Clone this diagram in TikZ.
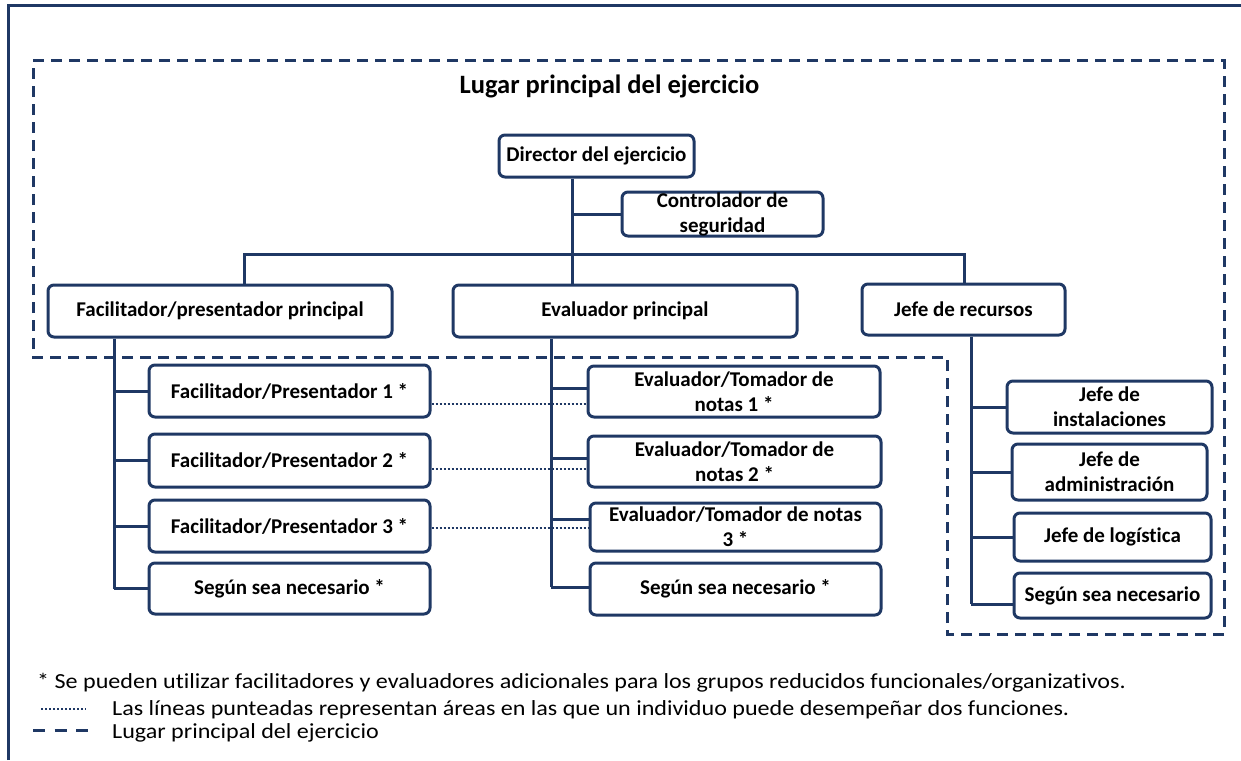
\documentclass[tikz,border=0pt]{standalone}
\usepackage{fontspec}
\setmainfont{Carlito}[Ligatures=NoCommon]
\newfontfamily\notefont{Carlito}[Ligatures=NoCommon, FakeStretch=1.12]
\definecolor{lineblue}{RGB}{31,56,100}

\begin{document}
\begin{tikzpicture}[x=1pt, y=-1pt,
    box/.style={draw=lineblue, line width=3pt, rounded corners=6pt, fill=white, inner sep=0pt, align=center, font=\fontsize{21}{25}\selectfont\bfseries},
    link/.style={draw=lineblue, line width=3pt},
    dual/.style={draw=lineblue, line width=2.6pt, dash pattern=on 2pt off 2pt},
    site/.style={draw=lineblue, line width=3pt, dash pattern=on 11pt off 7pt},
    note/.style={anchor=base west, inner sep=0pt, font=\notefont\fontsize{21.5}{24}\selectfont}]
    \useasboundingbox (0,0) rectangle (1241,760);
    \draw[link] (8,760) -- (8,6) -- (1241,6);

    % main site
    \draw[site] (33,61) -- (1224,61) -- (1224,634) -- (947,634) -- (947,357) -- (33,357) -- cycle;
    \node[anchor=base, inner sep=0pt, font=\fontsize{26.5}{30}\selectfont\bfseries] (title) at (609.5,93) {Lugar principal del ejercicio};

    \node[box, minimum width=195pt, minimum height=42pt] (dir) at (596.5,156) {Director del ejercicio};
    \node[box, minimum width=201pt, minimum height=44pt] (ctrl) at (722.5,214) {Controlador de\\seguridad};
    \node[box, minimum width=344pt, minimum height=52pt] (facp) at (220,311) {Facilitador/presentador principal};
    \node[box, minimum width=344pt, minimum height=52pt] (evap) at (625,311) {Evaluador principal};
    \node[box, minimum width=203pt, minimum height=51pt] (jefer) at (963.5,309.5) {Jefe de recursos};

    \node[box, minimum width=281pt, minimum height=52pt] (fac1) at (289.5,391) {Facilitador/Presentador 1 *};
    \node[box, minimum width=281pt, minimum height=53pt] (fac2) at (289.5,460.5) {Facilitador/Presentador 2 *};
    \node[box, minimum width=281pt, minimum height=52pt] (fac3) at (289.5,526) {Facilitador/Presentador 3 *};
    \node[box, minimum width=281pt, minimum height=51pt] (segf) at (289.5,588.5) {Según sea necesario *};

    \node[box, minimum width=292pt, minimum height=51pt] (eva1) at (734,391.5) {Evaluador/Tomador de\\notas 1 *};
    \node[box, minimum width=293pt, minimum height=51pt] (eva2) at (734.5,461.5) {Evaluador/Tomador de\\notas 2 *};
    \node[box, minimum width=291pt, minimum height=48pt] (eva3) at (735.5,527) {Evaluador/Tomador de notas\\3 *};
    \node[box, minimum width=291pt, minimum height=52pt] (sege) at (735.5,589) {Según sea necesario *};

    \node[box, minimum width=205pt, minimum height=52pt] (jinst) at (1109.5,407) {Jefe de\\instalaciones};
    \node[box, minimum width=195pt, minimum height=56pt] (jadm) at (1109.5,472) {Jefe de\\administración};
    \node[box, minimum width=197pt, minimum height=48pt] (jlog) at (1112.5,537) {Jefe de logística};
    \node[box, minimum width=197pt, minimum height=45pt] (jseg) at (1112.5,595.5) {Según sea necesario};

    \coordinate (trunk) at (572,0);
    \coordinate (busl) at (244,254);
    \coordinate (busr) at (964,254);
    \coordinate (facline) at (114,0);
    \coordinate (evaline) at (551,0);
    \coordinate (jefeline) at (971,0);

    \draw[link] (dir.south -| trunk) -- (evap.north -| trunk);
    \draw[link] (ctrl.west -| trunk) -- (ctrl.west);
    \draw[link] (facp.north -| busl) -- (busl) -- (busr) -- (jefer.north -| busr);

    \draw[link] (facp.south -| facline) -- (segf.west -| facline);
    \foreach \n in {fac1, fac2, fac3, segf}
        \draw[link] (\n.west -| facline) -- (\n.west);

    \draw[link] (evap.south -| evaline) -- ([yshift=2pt]sege.west -| evaline);
    \foreach \n/\s in {eva1/3, eva2/3, eva3/8, sege/2}
        \draw[link] ([yshift=\s pt]\n.west -| evaline) -- ([yshift=\s pt]\n.west);

    \draw[link] (jefer.south -| jefeline) -- ([yshift=-8.5pt]jseg.west -| jefeline);
    \foreach \n/\s in {jinst/0, jadm/0, jlog/0, jseg/-8.5}
        \draw[link] ([yshift=\s pt]\n.west -| jefeline) -- ([yshift=\s pt]\n.west);

    % dual roles
    \draw[dual] ([yshift=-13pt]fac1.east) -- ([yshift=-13pt]fac1.east -| eva1.west);
    \draw[dual] ([yshift=-8.5pt]fac2.east) -- ([yshift=-8.5pt]fac2.east -| eva2.west);
    \draw[dual] ([yshift=-2pt]fac3.east) -- ([yshift=-2pt]fac3.east -| eva3.west);

    % notes
    \node[note] (star) at (37,688) {* Se pueden utilizar facilitadores y evaluadores adicionales para los grupos reducidos funcionales/organizativos.};
    \node[note] (dotnote) at (112,715) {Las líneas punteadas representan áreas en las que un individuo puede desempeñar dos funciones.};
    \node[note] (sitenote) at (112,738) {Lugar principal del ejercicio};
    \coordinate (dota) at (41,709);
    \coordinate (dotb) at (86,709);
    \coordinate (dasha) at (33,730);
    \coordinate (dashb) at (88,730);
    \draw[dual] (dota) -- (dotb);
    \draw[site, dash pattern=on 12pt off 9.5pt] (dasha) -- (dashb);
\end{tikzpicture}
\end{document}
